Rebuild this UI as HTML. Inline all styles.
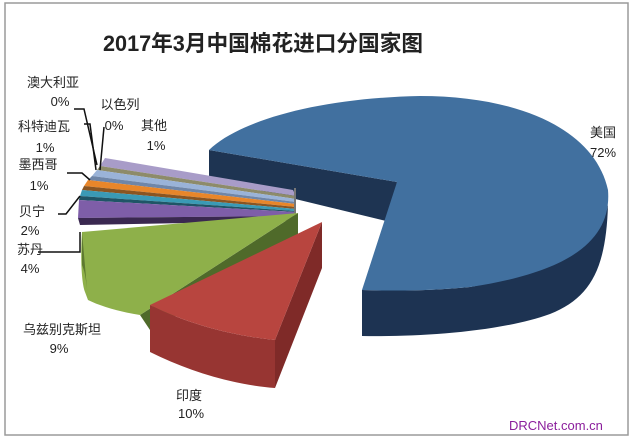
<!DOCTYPE html>
<html><head><meta charset="utf-8"><style>
html,body{margin:0;padding:0;background:#fff;}
svg{display:block;}
text{font-family:"Liberation Sans","Noto Sans CJK SC",sans-serif;fill:#222;}
</style></head><body>
<svg width="635" height="439" viewBox="0 0 635 439" xmlns="http://www.w3.org/2000/svg">
<rect x="5" y="3" width="623" height="432" fill="#fff" stroke="#9a9a9a" stroke-width="1.5"/>
<text x="263" y="51" font-size="22" font-weight="bold" text-anchor="middle" fill="#111" textLength="320" lengthAdjust="spacingAndGlyphs">2017年3月中国棉花进口分国家图</text>

<!-- Blue USA -->
<path d="M362,290 L362,336 C420,337 500,332 550,314 C590,298 606,270 608,205 L608,205 C600,240 560,270 470,287 C430,291 395,291 362,290Z" fill="#1d3352"/>
<polygon points="209,150 397,182 390,222 209,178" fill="#1e3452"/>
<path d="M209,150 C240,120 320,98 420,96 C520,96 595,130 608,190 C612,240 570,272 470,287 C430,291 395,291 362,290 L397,182 Z" fill="#41709f"/>

<!-- thin slices -->
<polygon points="105,158 293,190 296,196 100,166" fill="#a89cc8"/>
<polygon points="100,166 296,196 296,199 97,170" fill="#8d8b6a"/>
<polygon points="97,170 296,199 296,202 92,176" fill="#9ab3d8"/>
<polygon points="92,176 296,202 296,204 88,180" fill="#6f86a8"/>
<polygon points="88,180 296,204 296,207 84,186" fill="#e8862a"/>
<polygon points="84,186 296,207 296,209 82,190" fill="#8a5522"/>
<polygon points="82,190 296,209 296,211 80,196" fill="#3a9ab5"/>
<polygon points="80,196 296,211 296,212 79,200" fill="#1f5566"/>
<polygon points="79,200 296,212 296,216 78,218" fill="#7e5ea8"/>
<polygon points="78,218 296,216 296,221 80,225" fill="#3a2850"/>
<line x1="295" y1="188" x2="295" y2="222" stroke="#777" stroke-width="2"/>

<!-- Green Uzbekistan -->
<polygon points="298,213 298,250 150,330 140,315" fill="#4f6a2a"/>
<path d="M82,232 C80,260 82,285 85,292 L88,300 C100,306 120,312 140,315 L298,213 Z" fill="#8eb04a"/>
<path d="M82,232 L82,265 C84,270 86,275 88,300 Z" fill="#5e7a30"/>

<!-- Red India -->
<polygon points="322,222 322,268 275,388 275,340" fill="#7f2a28"/>
<path d="M150,305 L150,352 C190,372 235,385 275,388 L275,340 C235,336 190,325 150,305Z" fill="#973532"/>
<path d="M322,222 L150,305 C190,325 235,336 275,340 Z" fill="#b8453f"/>

<!-- leader lines -->
<g stroke="#111" stroke-width="1.5" fill="none">
<polyline points="74,109 84,109 97,165"/>
<polyline points="84,124 90,124 96,170"/>
<polyline points="104,127 100,170"/>
<polyline points="67,173 82,173 90,180"/>
<polyline points="58,214 66,214 80,196"/>
<polyline points="38,252 80,252 80,232"/>
</g>

<g font-size="13" text-anchor="middle">
<text x="53" y="87">澳大利亚</text>
<text x="60" y="106">0%</text>
<text x="120" y="109">以色列</text>
<text x="114" y="130">0%</text>
<text x="154" y="130">其他</text>
<text x="156" y="150">1%</text>
<text x="44" y="131">科特迪瓦</text>
<text x="45" y="152">1%</text>
<text x="38" y="169">墨西哥</text>
<text x="39" y="190">1%</text>
<text x="32" y="216">贝宁</text>
<text x="30" y="235">2%</text>
<text x="30" y="254">苏丹</text>
<text x="30" y="273">4%</text>
<text x="62" y="334">乌兹别克斯坦</text>
<text x="59" y="353">9%</text>
<text x="189" y="400">印度</text>
<text x="191" y="418">10%</text>
<text x="603" y="137">美国</text>
<text x="603" y="157">72%</text>
</g>
<text x="509" y="430" font-size="13" fill="#8b1e9c" style="fill:#8b1e9c">DRCNet.com.cn</text>
</svg>
</body></html>
